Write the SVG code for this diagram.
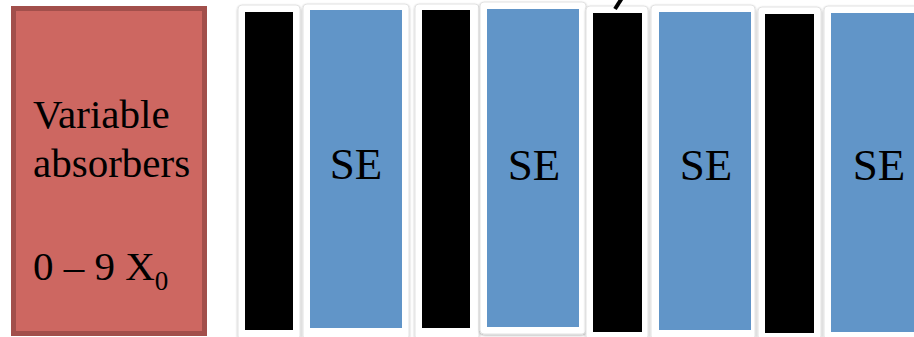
<svg xmlns="http://www.w3.org/2000/svg" width="914" height="337" viewBox="0 0 914 337">
<style>
.frame{fill:#ffffff;stroke:#e2e2e2;stroke-width:1;filter:url(#sh)}
.bar{fill:#000000}
.se{fill:#6195c8}
text{font-family:'Liberation Serif','DejaVu Serif',serif;fill:#000000}
.lbl{font-size:45px;text-anchor:middle}
</style>
<defs>
<filter id="sh" x="-20%" y="-5%" width="140%" height="110%">
<feDropShadow dx="0" dy="1" stdDeviation="1.2" flood-color="#000" flood-opacity="0.3"/>
</filter>
</defs>
<rect width="914" height="337" fill="#ffffff"/>
<g id="absorber">
<rect x="13.5" y="8.5" width="191" height="325" fill="#cd6761" stroke="#a24f4b" stroke-width="5"/>
<text font-family="Liberation Serif, serif" x="33" y="128" font-size="41">Variable</text>
<text font-family="Liberation Serif, serif" x="33" y="177" font-size="41">absorbers</text>
<text font-family="Liberation Serif, serif" x="33" y="280" font-size="41">0 – 9 X<tspan font-size="27" dy="10">0</tspan></text>
</g>
<g id="layer1"><rect class="frame" x="238" y="5" width="62" height="335" rx="4"/><rect class="bar" x="245" y="12" width="48" height="318"/></g>
<g id="se1"><rect class="frame" x="303" y="4" width="106" height="336" rx="4"/><rect class="se" x="310" y="10" width="92" height="318"/><text class="lbl" x="356" y="179">SE</text></g>
<g id="layer2"><rect class="frame" x="415" y="4" width="64" height="336" rx="4"/><rect class="bar" x="422" y="10" width="48" height="318"/></g>
<g id="se2"><rect class="frame" x="480" y="2" width="106" height="332" rx="4"/><rect class="se" x="487" y="9" width="92" height="318"/><text class="lbl" x="534" y="180">SE</text></g>
<g id="layer3"><rect class="frame" x="586" y="6" width="62" height="334" rx="4"/><rect class="bar" x="593" y="13" width="49" height="319"/></g>
<g id="se3"><rect class="frame" x="651" y="5" width="104" height="335" rx="4"/><rect class="se" x="659" y="12" width="92" height="318"/><text class="lbl" x="706" y="180">SE</text></g>
<g id="layer4"><rect class="frame" x="758" y="7" width="63" height="333" rx="4"/><rect class="bar" x="765" y="14" width="49" height="319"/></g>
<g id="se4"><rect class="frame" x="824" y="6" width="100" height="334" rx="4"/><rect class="se" x="831" y="13" width="90" height="319"/><text class="lbl" x="879" y="180">SE</text></g>
<g id="connectors">
<line x1="615" y1="9" x2="622" y2="-2" stroke="#000000" stroke-width="4"/>
</g>
</svg>
